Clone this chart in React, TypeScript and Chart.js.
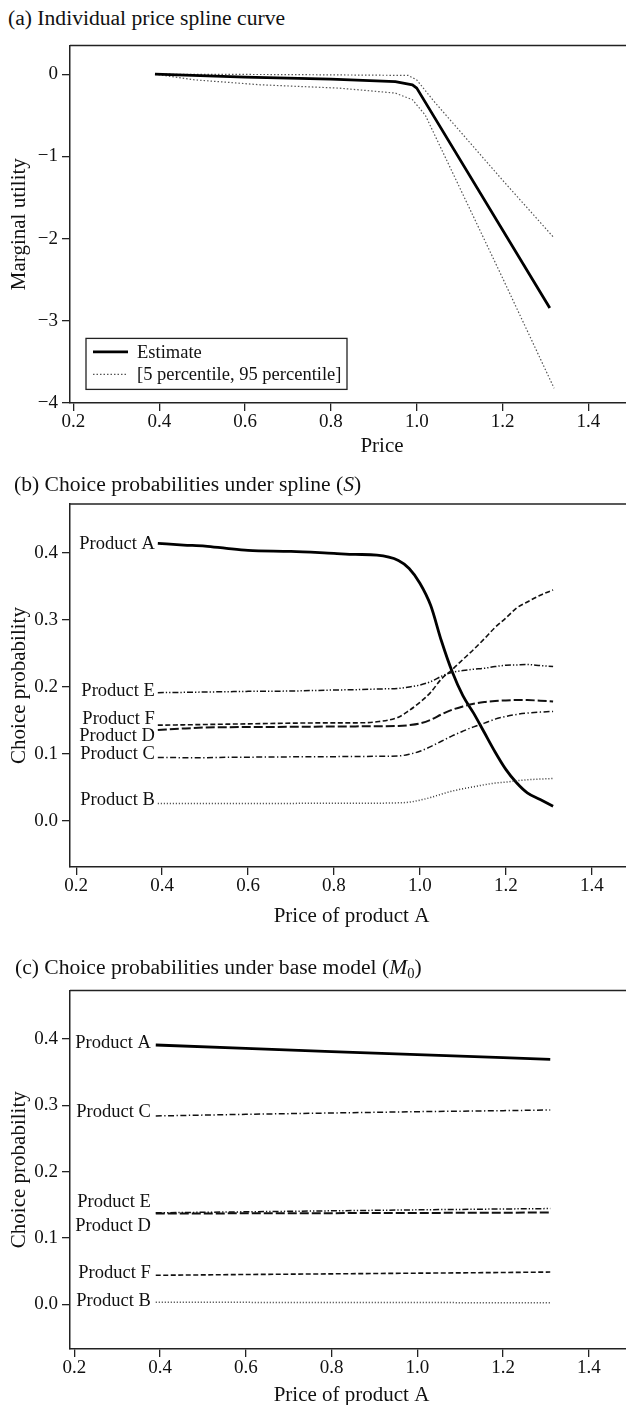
import React, { useEffect, useRef } from "react";
import { Chart, registerables } from "chart.js";

Chart.register(...registerables);

const FONT = '"Liberation Serif", "Times New Roman", serif';

// ---------- Panel (a): individual price spline curve ----------
const estimatePrice = [0.39, 0.6, 0.8, 0.95, 0.99, 1.0, 1.31];
const estimateUtility = [0, -0.035, -0.06, -0.09, -0.13, -0.17, -2.845];
const upperPrice = [0.39, 0.7, 0.98, 1.0, 1.04, 1.2, 1.318];
const upperUtility = [0, -0.005, -0.015, -0.07, -0.33, -1.29, -1.98];
const lowerPrice = [0.39, 0.48, 0.635, 0.82, 0.95, 0.99, 1.02, 1.1, 1.2, 1.32];
const lowerUtility = [0, -0.068, -0.129, -0.17, -0.23, -0.31, -0.5, -1.38, -2.48, -3.82];
const utilityTicks = [0, -1, -2, -3, -4];
const priceTicks = [0.2, 0.4, 0.6, 0.8, 1.0, 1.2, 1.4];
const legendLabels = ["Estimate", "[5 percentile, 95 percentile]"];

// ---------- Panel (b): choice probabilities under spline (S) ----------
const splinePrice = [0.39, 0.45, 0.5, 0.55, 0.6, 0.7, 0.8, 0.85, 0.9, 0.95, 0.975, 1.0, 1.025, 1.05, 1.075, 1.1, 1.125, 1.15, 1.175, 1.2, 1.225, 1.25, 1.28, 1.31];
const splineA = [0.4145, 0.412, 0.4105, 0.407, 0.404, 0.4025, 0.3995, 0.398, 0.397, 0.389, 0.377, 0.355, 0.322, 0.269, 0.223, 0.187, 0.161, 0.132, 0.103, 0.077, 0.057, 0.042, 0.032, 0.022];
const splineB = [0.026, 0.026, 0.026, 0.026, 0.026, 0.0262, 0.0263, 0.0264, 0.0265, 0.027, 0.028, 0.031, 0.035, 0.04, 0.0445, 0.048, 0.051, 0.054, 0.0565, 0.058, 0.06, 0.0615, 0.0625, 0.0634];
const splineC = [0.0948, 0.0945, 0.0945, 0.095, 0.0952, 0.0957, 0.096, 0.0962, 0.0965, 0.097, 0.0995, 0.104, 0.111, 0.119, 0.127, 0.134, 0.1405, 0.146, 0.152, 0.156, 0.159, 0.161, 0.1625, 0.1636];
const splineD = [0.1357, 0.138, 0.1395, 0.14, 0.1402, 0.1405, 0.141, 0.1412, 0.1415, 0.1418, 0.143, 0.1455, 0.151, 0.159, 0.166, 0.171, 0.175, 0.1775, 0.179, 0.18, 0.1805, 0.1805, 0.1795, 0.1785];
const splineE = [0.1915, 0.192, 0.1925, 0.193, 0.1935, 0.194, 0.1955, 0.196, 0.197, 0.198, 0.2, 0.203, 0.208, 0.216, 0.222, 0.2245, 0.2265, 0.228, 0.2305, 0.2325, 0.233, 0.2335, 0.232, 0.2305];
const splineF = [0.143, 0.1435, 0.144, 0.1445, 0.145, 0.146, 0.1465, 0.1465, 0.148, 0.155, 0.165, 0.177, 0.192, 0.212, 0.226, 0.241, 0.256, 0.272, 0.289, 0.303, 0.318, 0.327, 0.337, 0.345];

// ---------- Panel (c): choice probabilities under base model (M0) ----------
const basePrice = [0.39, 0.6, 0.8, 1.0, 1.2, 1.31];
const baseA = [0.391, 0.386, 0.381, 0.3765, 0.372, 0.3692];
const baseB = [0.003, 0.003, 0.0028, 0.0027, 0.0025, 0.0024];
const baseC = [0.284, 0.2865, 0.2885, 0.2905, 0.292, 0.293];
const baseD = [0.137, 0.1372, 0.1375, 0.1378, 0.1382, 0.1384];
const baseE = [0.138, 0.1395, 0.141, 0.1425, 0.1438, 0.1444];
const baseF = [0.0438, 0.045, 0.046, 0.047, 0.048, 0.0487];

const probTicks = [0, 0.1, 0.2, 0.3, 0.4];
const productNames = ["Product A", "Product B", "Product C", "Product D", "Product E", "Product F"];

// ---------- styles ----------
const productStyles: Record<string, { width: number; dash: number[]; color: string }> = {
  "Product A": { width: 2.8, dash: [], color: "#000" },
  "Product B": { width: 1.5, dash: [1, 2], color: "#333" },
  "Product C": { width: 1.5, dash: [6, 2.5, 1.3, 2.5], color: "#111" },
  "Product D": { width: 2, dash: [9, 3], color: "#111" },
  "Product E": { width: 1.5, dash: [6, 2, 1.3, 2, 1.3, 2], color: "#111" },
  "Product F": { width: 1.6, dash: [5, 2.5], color: "#111" },
};

const pts = (xs: number[], ys: number[]) => xs.map((x, i) => ({ x, y: ys[i] }));

const framePlugin = {
  id: "frame",
  afterDraw(chart: any) {
    const { ctx, chartArea: ca } = chart;
    ctx.save();
    ctx.strokeStyle = "#222";
    ctx.lineWidth = 1.5;
    ctx.beginPath();
    ctx.moveTo(ca.left, ca.top);
    ctx.lineTo(ca.right, ca.top);
    ctx.stroke();
    ctx.restore();
  },
};

function makeLabelPlugin(items: { ds: number; text: string; dy: number }[], gap: number) {
  return {
    id: "productLabels",
    afterDatasetsDraw(chart: any) {
      const { ctx } = chart;
      const xs = chart.scales.x;
      const ys = chart.scales.y;
      ctx.save();
      ctx.font = `18.5px ${FONT}`;
      ctx.fillStyle = "#111";
      ctx.textAlign = "right";
      ctx.textBaseline = "middle";
      for (const it of items) {
        const d = chart.data.datasets[it.ds].data[0];
        ctx.fillText(it.text, xs.getPixelForValue(d.x) - gap, ys.getPixelForValue(d.y) + it.dy);
      }
      ctx.restore();
    },
  };
}

const legendPlugin = {
  id: "boxLegend",
  afterDatasetsDraw(chart: any) {
    const { ctx, chartArea: ca } = chart;
    const bx = ca.left + 16;
    const by = ca.top + 293;
    const bw = 261;
    const bh = 51;
    const dsets = chart.data.datasets;
    ctx.save();
    ctx.fillStyle = "#fff";
    ctx.fillRect(bx, by, bw, bh);
    ctx.strokeStyle = "#222";
    ctx.lineWidth = 1.3;
    ctx.setLineDash([]);
    ctx.strokeRect(bx, by, bw, bh);
    const rows = [
      { ds: dsets[0], y: by + 13.5 },
      { ds: dsets[1], y: by + 36 },
    ];
    rows.forEach((r, i) => {
      ctx.strokeStyle = r.ds.borderColor;
      ctx.lineWidth = r.ds.borderWidth;
      ctx.setLineDash(r.ds.borderDash || []);
      ctx.beginPath();
      ctx.moveTo(bx + 7, r.y);
      ctx.lineTo(bx + 42, r.y);
      ctx.stroke();
      ctx.setLineDash([]);
      ctx.font = `18.5px ${FONT}`;
      ctx.fillStyle = "#111";
      ctx.textAlign = "left";
      ctx.textBaseline = "middle";
      ctx.fillText(legendLabels[i], bx + 51, r.y + 1);
    });
    ctx.restore();
  },
};

type PanelCfg = {
  top: number;
  width: number;
  height: number;
  padTop: number;
  padRight: number;
  xAxisH: number;
  xTitlePad: number;
  xMin: number;
  xMax: number;
  yMin: number;
  yMax: number;
  yTicks: number[];
  yFmt: (v: number) => string;
  yTitle: string;
  xTitle: string;
  datasets: any[];
  plugins: any[];
  tension: number;
};

function Panel({ cfg }: { cfg: PanelCfg }) {
  const ref = useRef<HTMLCanvasElement>(null);
  useEffect(() => {
    if (!ref.current) return;
    const tickFont = { family: FONT, size: 19 };
    const titleFont = { family: FONT, size: 21 };
    const chart = new Chart(ref.current, {
      type: "line",
      data: { datasets: cfg.datasets },
      options: {
        animation: false,
        responsive: false,
        devicePixelRatio: 1,
        layout: { padding: { top: cfg.padTop, left: 0, right: cfg.padRight, bottom: 0 } },
        elements: { point: { radius: 0 }, line: { tension: cfg.tension } },
        plugins: { legend: { display: false }, tooltip: { enabled: false } },
        scales: {
          x: {
            type: "linear",
            min: cfg.xMin,
            max: cfg.xMax,
            afterBuildTicks: (s: any) => {
              s.ticks = priceTicks.map((v) => ({ value: v }));
            },
            afterFit: (s: any) => {
              s.height = cfg.xAxisH;
            },
            ticks: { font: tickFont, color: "#111", padding: 0, maxRotation: 0, autoSkip: false, callback: (v: any) => Number(v).toFixed(1) },
            grid: { display: true, drawOnChartArea: false, drawTicks: true, tickLength: 8, color: "#222", lineWidth: 1.3 },
            border: { display: true, color: "#222", width: 1.5 },
            title: { display: true, text: cfg.xTitle, font: titleFont, color: "#111", padding: { top: 0, bottom: cfg.xTitlePad } },
          },
          y: {
            type: "linear",
            min: cfg.yMin,
            max: cfg.yMax,
            afterBuildTicks: (s: any) => {
              s.ticks = cfg.yTicks.map((v) => ({ value: v }));
            },
            afterFit: (s: any) => {
              s.width = 70;
            },
            ticks: { font: tickFont, color: "#111", padding: 4, autoSkip: false, callback: (v: any) => cfg.yFmt(Number(v)) },
            grid: { display: true, drawOnChartArea: false, drawTicks: true, tickLength: 8, color: "#222", lineWidth: 1.3 },
            border: { display: true, color: "#222", width: 1.5 },
            title: { display: true, text: cfg.yTitle, font: titleFont, color: "#111", padding: { top: 7, bottom: 0 } },
          },
        },
      } as any,
      plugins: [framePlugin, ...cfg.plugins],
    });
    return () => chart.destroy();
  }, []);
  return (
    <canvas
      ref={ref}
      width={cfg.width}
      height={cfg.height}
      style={{ position: "absolute", left: 0, top: cfg.top, width: cfg.width, height: cfg.height }}
    />
  );
}

function productDatasets(xs: number[], series: number[][], monotone: boolean) {
  // draw order: B, C, D, E, F, A (A on top)
  const order = [1, 2, 3, 4, 5, 0];
  return order.map((i) => {
    const st = productStyles[productNames[i]];
    return {
      label: productNames[i],
      data: pts(xs, series[i]),
      borderColor: st.color,
      borderWidth: st.width,
      borderDash: st.dash,
      fill: false,
      pointRadius: 0,
      cubicInterpolationMode: monotone ? "monotone" : "default",
      borderCapStyle: "butt",
      borderJoinStyle: "round",
    };
  });
}

// index in dataset order [B, C, D, E, F, A]
const dsIndex = (name: string) => [1, 2, 3, 4, 5, 0].indexOf(productNames.indexOf(name));

const panelA: PanelCfg = {
  top: 30,
  width: 700,
  height: 440,
  padTop: 12,
  padRight: 6,
  xAxisH: 67,
  xTitlePad: 11,
  xMin: 0.192,
  xMax: 1.646,
  yMin: -4,
  yMax: 0.35,
  yTicks: utilityTicks,
  yFmt: (v) => (v < 0 ? "\u2212" + Math.abs(v).toFixed(0) : v.toFixed(0)),
  yTitle: "Marginal utility",
  xTitle: "Price",
  tension: 0,
  datasets: [
    { label: "Estimate", data: pts(estimatePrice, estimateUtility), borderColor: "#000", borderWidth: 2.8, borderDash: [], pointRadius: 0, fill: false, borderJoinStyle: "round" },
    { label: "95 percentile", data: pts(upperPrice, upperUtility), borderColor: "#555", borderWidth: 1.2, borderDash: [1.5, 2], pointRadius: 0, fill: false },
    { label: "5 percentile", data: pts(lowerPrice, lowerUtility), borderColor: "#555", borderWidth: 1.2, borderDash: [1.5, 2], pointRadius: 0, fill: false },
  ],
  plugins: [legendPlugin],
};

const panelB: PanelCfg = {
  top: 480,
  width: 640,
  height: 460,
  padTop: 24,
  padRight: 7,
  xAxisH: 73,
  xTitlePad: 11,
  xMin: 0.1856,
  xMax: 1.496,
  yMin: -0.0688,
  yMax: 0.4733,
  yTicks: probTicks,
  yFmt: (v) => v.toFixed(1),
  yTitle: "Choice probability",
  xTitle: "Price of product A",
  tension: 0.4,
  datasets: productDatasets(splinePrice, [splineA, splineB, splineC, splineD, splineE, splineF], true),
  plugins: [
    makeLabelPlugin(
      [
        { ds: dsIndex("Product A"), text: "Product A", dy: 0.5 },
        { ds: dsIndex("Product E"), text: "Product E", dy: -2 },
        { ds: dsIndex("Product F"), text: "Product F", dy: -6 },
        { ds: dsIndex("Product D"), text: "Product D", dy: 6.5 },
        { ds: dsIndex("Product C"), text: "Product C", dy: -3.5 },
        { ds: dsIndex("Product B"), text: "Product B", dy: -3.5 },
      ],
      3
    ),
  ],
};

const panelC: PanelCfg = {
  top: 975,
  width: 640,
  height: 450,
  padTop: 13,
  padRight: 7,
  xAxisH: 76,
  xTitlePad: 17,
  xMin: 0.19,
  xMax: 1.503,
  yMin: -0.0673,
  yMax: 0.4733,
  yTicks: probTicks,
  yFmt: (v) => v.toFixed(1),
  yTitle: "Choice probability",
  xTitle: "Price of product A",
  tension: 0,
  datasets: productDatasets(basePrice, [baseA, baseB, baseC, baseD, baseE, baseF], false),
  plugins: [
    makeLabelPlugin(
      [
        { ds: dsIndex("Product A"), text: "Product A", dy: -2 },
        { ds: dsIndex("Product C"), text: "Product C", dy: -3.5 },
        { ds: dsIndex("Product E"), text: "Product E", dy: -11 },
        { ds: dsIndex("Product D"), text: "Product D", dy: 12.5 },
        { ds: dsIndex("Product F"), text: "Product F", dy: -2.5 },
        { ds: dsIndex("Product B"), text: "Product B", dy: -1.5 },
      ],
      5
    ),
  ],
};

const titleStyle: React.CSSProperties = {
  position: "absolute",
  fontFamily: FONT,
  fontSize: 21.6,
  lineHeight: "21px",
  whiteSpace: "nowrap",
  color: "#111",
};

export default function App() {
  return (
    <div
      style={{
        position: "absolute",
        left: 0,
        top: 0,
        width: 626,
        height: 1405,
        overflow: "hidden",
        background: "#fff",
      }}
    >
      <Panel cfg={panelA} />
      <Panel cfg={panelB} />
      <Panel cfg={panelC} />
      <div style={{ ...titleStyle, left: 8, top: 7.5 }}>(a) Individual price spline curve</div>
      <div style={{ ...titleStyle, left: 14, top: 473.5 }}>
        (b) Choice probabilities under spline (<i>S</i>)
      </div>
      <div style={{ ...titleStyle, left: 15, top: 956.5 }}>
        (c) Choice probabilities under base model (<i>M</i>
        <span style={{ fontSize: 14.5, verticalAlign: "-4px", lineHeight: 0 }}>0</span>)
      </div>
    </div>
  );
}
